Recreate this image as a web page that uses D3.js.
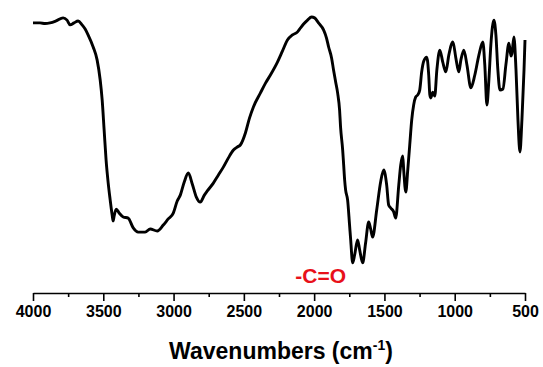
<!DOCTYPE html>
<html>
<head>
<meta charset="utf-8">
<script src="https://cdn.jsdelivr.net/npm/d3@7"></script>
<style>
  html, body { margin: 0; padding: 0; background: #fff; }
  svg { display: block; }
  text { font-family: "Liberation Sans", Arial, sans-serif; }
</style>
</head>
<body>
<svg id="chart" width="543" height="367"></svg>
<script>
// Wavenumber (cm-1), descending
const wavenumbers = [4000,3950,3914,3879,3836,3786,3758,3736,3708,3679,3651,3629,3608,3572,3544,3522,3508,3494,3480,3465,3451,3437,3430,3423,3408,3387,3358,3323,3287,3252,3202,3166,3116,3073,3038,3002,2974,2952,2924,2895,2867,2838,2810,2781,2760,2717,2681,2646,2610,2574,2546,2525,2489,2460,2432,2382,2346,2311,2261,2225,2190,2154,2118,2097,2075,2047,2018,1997,1969,1933,1912,1897,1876,1862,1847,1833,1819,1812,1797,1790,1783,1776,1762,1748,1740,1726,1712,1691,1676,1655,1634,1612,1598,1584,1555,1527,1505,1484,1470,1455,1434,1420,1398,1384,1370,1363,1348,1334,1320,1306,1292,1278,1263,1249,1235,1220,1199,1185,1177,1170,1156,1142,1127,1106,1085,1063,1042,1013,992,971,956,935,913,885,857,828,800,786,771,757,743,721,707,693,678,657,636,614,600,593,579,564,550,536,522,507,500];
// Transmittance (arbitrary %)
const transmittance = [96.1,96.1,95.9,96.1,96.8,97.9,97.1,95.4,96.1,96.8,95.4,93.9,91.8,87.5,82.9,75.7,68.6,57.9,47.1,38.9,32.9,27.5,25.4,27.1,29.6,28.2,26.8,26.4,22.9,21.4,21.4,22.5,21.8,23.9,26.1,28.2,32.5,34.6,39.3,42.5,38.6,33.9,32.1,34.6,36.1,38.9,41.8,44.6,47.9,50.7,51.8,52.5,56.8,62.1,66.1,71.1,74.6,77.5,82.1,86.1,90.0,91.8,92.9,94.3,95.7,97.1,98.2,97.9,96.1,93.6,90.7,87.5,83.6,79.3,75.0,71.1,65.0,58.9,50.7,45.4,40.0,36.4,32.9,23.9,18.6,10.4,13.2,18.6,15.0,10.4,17.5,25.0,22.5,19.6,29.3,39.3,43.6,38.2,31.1,30.0,28.6,26.4,38.2,45.4,48.6,43.6,35.7,43.6,52.5,61.4,66.8,69.6,70.4,72.1,78.6,82.5,83.9,77.5,70.4,69.3,71.4,70.0,79.3,86.4,82.1,78.6,84.6,89.3,83.6,78.6,82.9,86.4,81.1,72.9,77.5,84.6,89.3,81.1,66.8,75.7,88.2,97.1,91.8,79.3,72.1,72.5,81.1,88.9,84.3,85.0,91.1,79.3,61.4,50.0,61.4,79.3,90.0];
const majorTicks = [4000,3500,3000,2500,2000,1500,1000,500];
const minorTicks = [3750,3250,2750,2250,1750,1250,750];
const xTitle = "Wavenumbers (cm";
const xTitleSup = "-1";
const annotation = { label: "-C=O", wn: 1655 };

const svg = d3.select("#chart");
const x = d3.scaleLinear().domain([4000, 500]).range([33, 525]);
const y = d3.scaleLinear().domain([0, 100]).range([292, 12]);
const axisY = 293;

const data = wavenumbers.map((w, i) => ({ w, t: transmittance[i] }));

const line = d3.line()
  .x(d => x(d.w))
  .y(d => y(d.t))
  .curve(d3.curveMonotoneX);

svg.append("path")
  .datum(data)
  .attr("d", line)
  .attr("fill", "none")
  .attr("stroke", "#000")
  .attr("stroke-width", 2.9)
  .attr("stroke-linejoin", "round");

// Major ticks + labels
const gMaj = svg.append("g")
  .attr("transform", `translate(0,${axisY})`)
  .call(d3.axisBottom(x).tickValues(majorTicks).tickSize(8).tickSizeOuter(0).tickPadding(5).tickFormat(d3.format("d")));
gMaj.select(".domain").attr("stroke", "#000").attr("stroke-width", 1.6);
gMaj.selectAll(".tick line").attr("stroke", "#000").attr("stroke-width", 1.6);
gMaj.selectAll(".tick text")
  .attr("fill", "#000")
  .style("font-family", "'Liberation Sans', Arial, sans-serif")
  .style("font-size", "16px")
  .style("font-weight", "bold");

// Minor ticks
const gMin = svg.append("g")
  .attr("transform", `translate(0,${axisY})`)
  .call(d3.axisBottom(x).tickValues(minorTicks).tickSize(4).tickSizeOuter(0).tickFormat(""));
gMin.select(".domain").remove();
gMin.selectAll(".tick line").attr("stroke", "#000").attr("stroke-width", 1.6);

// Axis title
const title = svg.append("text")
  .attr("x", 281)
  .attr("y", 359)
  .attr("text-anchor", "middle")
  .style("font-size", "23px")
  .style("font-weight", "bold")
  .attr("fill", "#000");
title.append("tspan").text(xTitle);
title.append("tspan").attr("dy", -9).style("font-size", "14px").text(xTitleSup);
title.append("tspan").attr("dy", 9).text(")");

// Annotation
svg.append("text")
  .attr("x", x(annotation.wn) - 42)
  .attr("y", 283)
  .attr("text-anchor", "middle")
  .style("font-size", "21px")
  .style("font-weight", "bold")
  .attr("fill", "#e8101a")
  .text(annotation.label);
</script>
</body>
</html>
